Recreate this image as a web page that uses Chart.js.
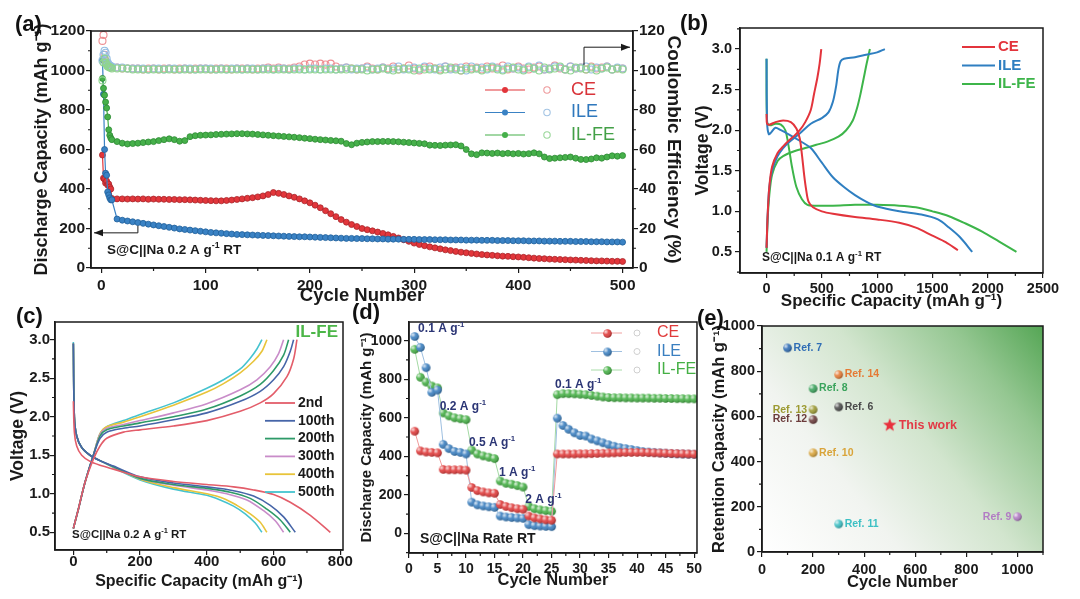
<!DOCTYPE html>
<html>
<head>
<meta charset="utf-8">
<script src="https://cdn.jsdelivr.net/npm/chart.js@4.4.1/dist/chart.umd.min.js"></script>
<style>
  html, body { margin: 0; padding: 0; background: #fff; }
  body { position: relative; width: 1080px; height: 599px; overflow: hidden; }
  canvas { position: absolute; }
  .tag { position: absolute; font: bold 22px "Liberation Sans", Arial, sans-serif; color: #111; }
</style>
</head>
<body>
<canvas id="chartA" width="700" height="310" style="left:0;top:0"></canvas>
<canvas id="chartB" width="390" height="315" style="left:690px;top:0"></canvas>
<canvas id="chartC" width="362" height="299" style="left:0;top:300px"></canvas>
<canvas id="chartD" width="360" height="299" style="left:345px;top:300px"></canvas>
<canvas id="chartE" width="380" height="299" style="left:700px;top:300px"></canvas>
<div class="tag" style="left:15px;top:11px">(a)</div>
<div class="tag" style="left:680px;top:10px">(b)</div>
<div class="tag" style="left:16px;top:303px">(c)</div>
<div class="tag" style="left:352px;top:299px">(d)</div>
<div class="tag" style="left:697px;top:305px">(e)</div>
<script>
// ---------- panel (a): cycling at 0.2 A/g ----------
const aCycles = [1, 2, 3, 4, 5, 6, 7, 8, 9, 10,
  15, 20, 25, 30, 35, 40, 45, 50, 55, 60,
  65, 70, 75, 80, 85, 90, 95, 100, 105, 110,
  115, 120, 125, 130, 135, 140, 145, 150, 155, 160,
  165, 170, 175, 180, 185, 190, 195, 200, 205, 210,
  215, 220, 225, 230, 235, 240, 245, 250, 255, 260,
  265, 270, 275, 280, 285, 290, 295, 300, 305, 310,
  315, 320, 325, 330, 335, 340, 345, 350, 355, 360,
  365, 370, 375, 380, 385, 390, 395, 400, 405, 410,
  415, 420, 425, 430, 435, 440, 445, 450, 455, 460,
  465, 470, 475, 480, 485, 490, 495, 500];
const aCapCE = [572, 455, 450, 430, 440, 420, 425, 410, 400, 352,
  350, 350, 349, 350, 349, 350, 348, 349, 348, 348,
  347, 347, 346, 346, 345, 344, 343, 342, 341, 340,
  340, 342, 344, 347, 350, 353, 356, 360, 365, 372,
  382, 378, 372, 365, 358, 350, 340, 330, 318, 305,
  290, 275, 260, 245, 232, 220, 210, 200, 194, 188,
  182, 175, 168, 160, 152, 143, 135, 126, 119, 113,
  107, 102, 97, 92, 88, 84, 80, 77, 74, 71,
  68, 66, 64, 62, 60, 59, 57, 56, 54, 52,
  50, 48, 47, 45, 44, 43, 42, 41, 40, 39,
  38, 37, 36, 36, 35, 34, 34, 33];
const aCapILE = [1055, 880, 600, 480, 470, 385, 370, 355, 345, 345,
  248, 242, 238, 234, 230, 226, 222, 218, 214, 210,
  206, 202, 198, 195, 192, 189, 186, 183, 180, 178,
  176, 174, 172, 170, 169, 168, 167, 166, 165, 164,
  163, 162, 161, 160, 159, 158, 158, 157, 156, 155,
  154, 153, 152, 151, 150, 150, 149, 149, 148, 148,
  147, 147, 146, 146, 146, 145, 145, 145, 144, 144,
  144, 143, 143, 143, 142, 142, 142, 141, 141, 141,
  140, 140, 140, 139, 139, 139, 138, 138, 138, 137,
  137, 137, 136, 136, 136, 135, 135, 135, 134, 134,
  134, 133, 133, 133, 132, 132, 132, 131];
const aCapILFE = [960, 910, 875, 840, 810, 765, 700, 672, 658, 650,
  640, 632, 628, 630, 632, 635, 638, 640, 645, 650,
  654, 650, 642, 645, 665, 670, 672, 673, 674, 676,
  677, 678, 679, 680, 680, 679, 678, 676, 674, 672,
  670, 668, 666, 664, 662, 660, 657, 655, 652, 650,
  648, 646, 644, 642, 630, 624, 632, 636, 638, 640,
  640, 641, 641, 640, 639, 637, 635, 633, 631, 629,
  622, 621, 620, 622, 623, 624, 618, 600, 578, 574,
  583, 582, 580, 582, 579, 581, 578, 580, 577, 579,
  583, 578, 562, 554, 556, 558, 560, 562, 556, 550,
  549, 552, 558, 556, 562, 568, 566, 569];
const aEffCE = [115, 118, 108, 105, 104, 103, 102.5, 102, 102, 101.5,
  101.5, 101, 101, 101, 101, 100.5, 101, 101, 100.5, 101,
  101, 100.5, 101, 101, 100.5, 101, 101, 101, 100.5, 101,
  101, 101, 100.5, 101, 101, 101, 100.5, 101, 101, 101.5,
  101, 101.5, 101, 101, 101.5, 102, 103, 103.5, 103, 103.5,
  103, 103.5, 102, 101, 101.5, 101, 100.5, 101, 102, 101,
  100.5, 101.5, 101, 102, 100.5, 101, 102.5, 101, 100, 101.5,
  102, 101, 100.5, 102, 101, 101.5, 100, 102, 101, 101.5,
  100.5, 102, 101, 101.5, 102.5, 100.5, 101, 102, 101, 100.5,
  101.5, 102, 100.5, 101, 102.5, 101, 100.5, 102, 101, 101.5,
  100.5, 102, 101, 101.5, 102, 100.5, 101, 101];
const aEffILE = [105, 108, 110, 109, 106, 104, 103, 102.5, 102, 102,
  101.5, 101.5, 101, 101, 101, 101, 100.5, 101, 101, 100.5,
  101, 101, 100.5, 101, 101, 100.5, 101, 101, 101, 100.5,
  101, 100.5, 101, 101, 100.5, 101, 101, 100.5, 101, 101,
  100.5, 101, 101, 100.5, 101, 101, 100.5, 101, 101, 100.5,
  101, 101, 100.5, 101, 101.5, 100.5, 101, 101, 101.5, 100.5,
  101, 101.5, 100.5, 101, 102, 100.5, 101, 101.5, 100.5, 102,
  101, 100.5, 101.5, 102, 100.5, 101, 101.5, 100, 102, 101,
  101.5, 100.5, 102, 101, 100.5, 102, 101, 101.5, 100.5, 102,
  101, 102.5, 100.5, 101, 102, 101.5, 100.5, 102, 101, 101.5,
  102, 100.5, 101.5, 101, 102, 100.5, 101.5, 101];
const aEffILFE = [95, 104, 106, 104, 103, 102, 102, 101.5, 101.5, 101,
  101, 101, 101, 100.5, 100.5, 100.5, 100.5, 100.5, 100.5, 100.5,
  100.5, 100.5, 100.5, 100.5, 100.5, 100.5, 100.5, 100.5, 100.5, 100.5,
  100.5, 100.5, 100.5, 100.5, 100.5, 100.5, 100.5, 100.5, 100.5, 100.5,
  100.5, 100.5, 100.5, 100.5, 100.5, 100.5, 100.5, 100.5, 100.5, 100.5,
  100.5, 100.5, 100.5, 100.5, 100.5, 101, 100.5, 100.5, 100, 100.5,
  100.5, 101, 100.5, 100, 100.5, 101, 100.5, 100, 101, 100.5,
  100.5, 101, 100, 100.5, 101.5, 100.5, 100, 101, 100.5, 101,
  100, 101, 101.5, 100.5, 100, 101, 101.5, 100.5, 100, 101.5,
  101, 100, 101.5, 100.5, 101, 102, 100.5, 100, 101.5, 101,
  100.5, 101.5, 100, 101, 101.5, 100.5, 101, 100.5];
const aTicksX = [0, 100, 200, 300, 400, 500];
const aTicksY = [0, 200, 400, 600, 800, 1000, 1200];
const aTicksY2 = [0, 20, 40, 60, 80, 100, 120];

// ---------- panel (b): first cycle profiles at 0.1 A/g ----------
const bCEChgCap = [0, 10, 25, 50, 100, 150, 200, 250, 300, 350, 400, 430, 460, 480, 495];
const bCEChgV = [0.55, 0.95, 1.3, 1.55, 1.72, 1.8, 1.87, 1.93, 2.0, 2.1, 2.25, 2.45, 2.65, 2.82, 3.0];
const bCEDisCap = [0, 5, 30, 80, 150, 220, 270, 300, 320, 340, 360, 380, 420, 500, 600, 800, 1000, 1200, 1350, 1500, 1620, 1730];
const bCEDisV = [2.2, 2.08, 2.07, 2.1, 2.12, 2.1, 2.02, 1.9, 1.7, 1.45, 1.25, 1.12, 1.05, 1.0, 0.97, 0.93, 0.9, 0.86, 0.8, 0.7, 0.62, 0.52];
const bILEChgCap = [0, 10, 25, 50, 100, 150, 200, 300, 400, 500, 560, 600, 630, 650, 670, 700, 800, 900, 1000, 1070];
const bILEChgV = [0.55, 0.95, 1.3, 1.5, 1.68, 1.78, 1.85, 1.96, 2.08, 2.15, 2.22, 2.35, 2.55, 2.75, 2.85, 2.88, 2.9, 2.93, 2.96, 3.0];
const bILEDisCap = [0, 5, 20, 40, 80, 130, 200, 300, 400, 500, 600, 700, 800, 900, 1000, 1200, 1400, 1550, 1650, 1750, 1860];
const bILEDisV = [2.88, 2.1, 1.95, 1.97, 2.03, 2.0, 1.95, 1.87, 1.78, 1.6, 1.42, 1.3, 1.2, 1.12, 1.06, 1.0, 0.96, 0.9, 0.8, 0.68, 0.5];
const bILFEChgCap = [0, 10, 25, 50, 100, 150, 250, 350, 450, 550, 650, 720, 780, 820, 850, 880, 905, 935];
const bILFEChgV = [0.5, 0.9, 1.2, 1.45, 1.62, 1.68, 1.74, 1.78, 1.82, 1.86, 1.92, 2.0, 2.12, 2.28, 2.45, 2.65, 2.82, 3.0];
const bILFEDisCap = [0, 5, 30, 80, 130, 170, 200, 230, 270, 320, 370, 450, 600, 800, 1000, 1200, 1350, 1500, 1650, 1800, 1950, 2100, 2260];
const bILFEDisV = [2.88, 2.1, 2.06, 2.08, 2.07, 2.0, 1.8, 1.55, 1.3, 1.15, 1.08, 1.07, 1.07, 1.08, 1.08, 1.07, 1.05, 1.0, 0.94, 0.85, 0.75, 0.63, 0.5];
const bTicksX = [0, 500, 1000, 1500, 2000, 2500];
const vTicks = [0.5, 1.0, 1.5, 2.0, 2.5, 3.0];

// ---------- panel (c): IL-FE profiles at selected cycles ----------
const cNames = ['2nd', '100th', '200th', '300th', '400th', '500th'];
const cChgCap = [
  [0, 15, 35, 60, 80, 100, 150, 200, 300, 400, 500, 560, 600, 640, 660, 670],
  [0, 15, 35, 60, 80, 100, 150, 200, 300, 400, 500, 560, 600, 630, 650, 660],
  [0, 15, 35, 60, 80, 100, 150, 200, 300, 400, 500, 560, 600, 630, 645],
  [0, 15, 35, 60, 80, 100, 150, 200, 300, 400, 500, 550, 590, 615, 630],
  [0, 15, 35, 60, 80, 100, 150, 200, 300, 400, 450, 500, 540, 565, 580],
  [0, 15, 35, 60, 80, 100, 150, 200, 300, 400, 450, 500, 530, 550, 565]];
const cChgV = [
  [0.55, 0.8, 1.15, 1.45, 1.62, 1.72, 1.8, 1.83, 1.88, 1.95, 2.07, 2.18, 2.3, 2.52, 2.75, 3.0],
  [0.55, 0.8, 1.15, 1.5, 1.72, 1.8, 1.85, 1.88, 1.96, 2.05, 2.2, 2.33, 2.48, 2.65, 2.85, 3.0],
  [0.55, 0.8, 1.15, 1.5, 1.75, 1.83, 1.88, 1.92, 2.0, 2.1, 2.27, 2.42, 2.6, 2.8, 3.0],
  [0.55, 0.8, 1.15, 1.5, 1.77, 1.85, 1.9, 1.95, 2.05, 2.17, 2.35, 2.48, 2.65, 2.82, 3.0],
  [0.55, 0.8, 1.15, 1.5, 1.78, 1.87, 1.93, 2.0, 2.15, 2.32, 2.43, 2.57, 2.72, 2.85, 3.0],
  [0.55, 0.8, 1.15, 1.5, 1.78, 1.87, 1.95, 2.03, 2.18, 2.37, 2.48, 2.62, 2.76, 2.88, 3.0]];
const cDisCap = [
  [0, 3, 10, 25, 50, 80, 120, 200, 300, 400, 480, 540, 600, 650, 710, 770],
  [0, 3, 10, 25, 50, 80, 120, 200, 300, 400, 480, 540, 590, 630, 665],
  [0, 3, 10, 25, 50, 80, 120, 200, 300, 400, 470, 530, 580, 620, 650],
  [0, 3, 10, 25, 50, 80, 120, 200, 300, 400, 460, 520, 570, 605, 630],
  [0, 3, 10, 25, 50, 80, 120, 200, 300, 400, 450, 490, 530, 560, 580],
  [0, 3, 10, 25, 50, 80, 120, 200, 300, 400, 440, 480, 515, 545, 565]];
const cDisV = [
  [2.2, 1.8, 1.62, 1.5, 1.42, 1.37, 1.32, 1.22, 1.16, 1.12, 1.09, 1.05, 0.99, 0.89, 0.72, 0.5],
  [2.95, 2.0, 1.75, 1.6, 1.5, 1.43, 1.36, 1.22, 1.14, 1.09, 1.04, 0.97, 0.85, 0.7, 0.5],
  [2.95, 2.0, 1.75, 1.6, 1.5, 1.43, 1.35, 1.2, 1.12, 1.07, 1.02, 0.94, 0.8, 0.66, 0.5],
  [2.95, 2.0, 1.75, 1.6, 1.5, 1.43, 1.35, 1.2, 1.11, 1.05, 1.0, 0.92, 0.78, 0.65, 0.5],
  [2.95, 2.0, 1.75, 1.6, 1.5, 1.43, 1.35, 1.19, 1.08, 1.0, 0.94, 0.85, 0.74, 0.63, 0.5],
  [2.97, 2.0, 1.75, 1.6, 1.5, 1.43, 1.34, 1.18, 1.06, 0.98, 0.92, 0.84, 0.74, 0.62, 0.5]];
const cTicksX = [0, 200, 400, 600, 800];

// ---------- panel (d): rate capability ----------
const dCycles = [1, 2, 3, 4, 5, 6, 7, 8, 9, 10, 11, 12, 13, 14, 15, 16, 17, 18, 19, 20, 21, 22, 23, 24, 25,
  26, 27, 28, 29, 30, 31, 32, 33, 34, 35, 36, 37, 38, 39, 40, 41, 42, 43, 44, 45, 46, 47, 48, 49, 50];
const dCapCE = [530, 428, 422, 420, 418, 332, 330, 330, 330, 328, 238, 222, 215, 210, 208,
  150, 140, 133, 128, 125, 90, 80, 75, 70, 68,
  412, 412, 412, 412, 413, 413, 414, 415, 416, 417, 418, 419, 420, 420, 420,
  420, 419, 418, 417, 416, 415, 414, 413, 412, 411];
const dCapILE = [1022, 965, 860, 732, 744, 462, 440, 425, 420, 412, 162, 148, 142, 138, 135,
  90, 85, 82, 80, 78, 45, 40, 38, 36, 35,
  598, 560, 540, 522, 508, 505, 490, 480, 470, 460, 452, 445, 440, 435, 430,
  425, 422, 420, 418, 416, 414, 413, 412, 411, 410];
const dCapILFE = [955, 810, 785, 765, 755, 625, 610, 600, 595, 590, 432, 412, 402, 395, 388,
  272, 260, 255, 248, 240, 140, 128, 122, 118, 115,
  720, 725, 725, 724, 722, 720, 716, 712, 708, 705, 704, 704, 703, 703, 702,
  702, 702, 701, 701, 700, 700, 699, 699, 698, 698];
const dRateLabels = ['0.1 A g', '0.2 A g', '0.5 A g', '1 A g', '2 A g', '0.1 A g'];
const dRateAtCycle = [1.6, 5.4, 10.5, 15.8, 20.4, 25.6];
const dRateAtCap = [1060, 656, 469, 313, 173, 770];
const dTicksX = [0, 5, 10, 15, 20, 25, 30, 35, 40, 45, 50];
const dTicksY = [0, 200, 400, 600, 800, 1000];

// ---------- panel (e): comparison with literature ----------
const eRefs = ['Ref. 6', 'Ref. 7', 'Ref. 8', 'Ref. 9', 'Ref. 10', 'Ref. 11', 'Ref. 12', 'Ref. 13', 'Ref. 14'];
const eCycles = [300, 100, 200, 1000, 200, 300, 200, 200, 300];
const eCaps = [642, 903, 723, 156, 439, 124, 586, 630, 785];
const eColors = ['#4a4a4a', '#2f6db5', '#3aa35c', '#b27cc4', '#d9a43a', '#3cc0c4', '#6b3b3b', '#9c9a32', '#e57a34'];
const eLabelLeft = [false, false, false, true, false, false, true, true, false];
const thisWorkCycles = [500];
const thisWorkCaps = [561];
const eTicks = [0, 200, 400, 600, 800, 1000];

// ---------- shared styling ----------
const FONT = '"Liberation Sans", Arial, sans-serif';
const INK = '#1a1a1a';
const RED = '#e2363b', BLUE = '#3a82c4', GREEN = '#46b04a';
Chart.defaults.font.family = FONT;
Chart.defaults.color = INK;

function f(size, weight) { return { family: FONT, size: size, weight: weight || 'bold' }; }
function pts(xs, ys) { return xs.map((x, i) => ({ x: x, y: ys[i] })); }

function linAxis(o) {
  return {
    type: 'linear', position: o.position, min: o.min, max: o.max, bounds: 'data',
    afterFit: s => { if (s.isHorizontal()) s.height = o.size; else s.width = o.size; },
    afterBuildTicks: s => { s.ticks = o.ticks.map(v => ({ value: v })); },
    ticks: { font: f(o.tickSize), color: INK, padding: o.tickPad, autoSkip: false, maxRotation: 0,
      callback: o.fmt || (v => String(v)) },
    title: { display: true, text: o.title, font: f(o.titleSize), color: INK, padding: o.titlePad },
    grid: { display: true, drawOnChartArea: false, drawTicks: true, tickLength: 5, color: INK, lineWidth: 1.2 },
    border: { display: true, color: INK, width: 1.5 }
  };
}

function baseOptions(pad, scales) {
  return {
    responsive: false, animation: false, events: [],
    layout: { padding: pad },
    plugins: { legend: { display: false }, tooltip: { enabled: false } },
    scales: scales
  };
}

// black box round the plot area
const frame = {
  id: 'frame',
  afterDraw(chart) {
    const { ctx, chartArea: a } = chart;
    ctx.save();
    ctx.strokeStyle = INK; ctx.lineWidth = 1.5;
    ctx.strokeRect(a.left, a.top, a.right - a.left, a.bottom - a.top);
    ctx.restore();
  }
};

// short ticks halfway between the labelled ones
const minorTicks = {
  id: 'minorTicks',
  afterDraw(chart) {
    const { ctx, chartArea: a } = chart;
    ctx.save();
    ctx.strokeStyle = INK; ctx.lineWidth = 1.2;
    Object.values(chart.scales).forEach(s => {
      if (s.ticks.length < 2) return;
      const step = s.ticks[1].value - s.ticks[0].value;
      ctx.beginPath();
      for (let v = s.ticks[0].value - step / 2; v <= s.max + 1e-9; v += step) {
        if (v < s.min - 1e-9) continue;
        const p = s.getPixelForValue(v);
        if (s.isHorizontal()) { ctx.moveTo(p, a.bottom); ctx.lineTo(p, a.bottom + 3); }
        else if (s.position === 'left') { ctx.moveTo(a.left, p); ctx.lineTo(a.left - 3, p); }
        else { ctx.moveTo(a.right, p); ctx.lineTo(a.right + 3, p); }
      }
      ctx.stroke();
    });
    ctx.restore();
  }
};

// text with a superscript part, e.g. g^-1
function richText(ctx, x, y, parts, size, color, weight) {
  ctx.save();
  ctx.fillStyle = color; ctx.textBaseline = 'middle'; ctx.textAlign = 'left';
  let cx = x;
  parts.forEach(p => {
    const sup = p[1];
    ctx.font = (weight || 'bold') + ' ' + (sup ? size * 0.65 : size) + 'px ' + FONT;
    ctx.fillText(p[0], cx, sup ? y - size * 0.36 : y);
    cx += ctx.measureText(p[0]).width;
  });
  ctx.restore();
}

function sphere(color, r) {
  const c = document.createElement('canvas');
  const s = Math.ceil(r * 2 + 2);
  c.width = c.height = s;
  const g = c.getContext('2d');
  const m = s / 2;
  g.beginPath(); g.arc(m, m, r, 0, Math.PI * 2);
  g.fillStyle = color; g.fill();
  const hl = g.createRadialGradient(m - r * 0.4, m - r * 0.4, 0, m - r * 0.4, m - r * 0.4, r * 1.5);
  hl.addColorStop(0, 'rgba(255,255,255,0.85)');
  hl.addColorStop(0.45, 'rgba(255,255,255,0.1)');
  hl.addColorStop(1, 'rgba(0,0,0,0.3)');
  g.fillStyle = hl; g.fill();
  return c;
}

function starImage(color, r) {
  const c = document.createElement('canvas');
  c.width = c.height = Math.ceil(r * 2 + 2);
  const g = c.getContext('2d');
  const m = c.width / 2;
  g.beginPath();
  for (let i = 0; i < 10; i++) {
    const rr = i % 2 ? r * 0.42 : r;
    const ang = -Math.PI / 2 + i * Math.PI / 5;
    g.lineTo(m + rr * Math.cos(ang), m + rr * Math.sin(ang));
  }
  g.closePath(); g.fillStyle = color; g.fill();
  return c;
}

function arrowHead(ctx, x, y, dir) {
  ctx.beginPath();
  ctx.moveTo(x, y);
  ctx.lineTo(x - dir * 9, y - 3.5);
  ctx.lineTo(x - dir * 9, y + 3.5);
  ctx.closePath(); ctx.fill();
}

// ---------- (a) ----------
function capSet(ys, color, dark, order) {
  return { data: pts(aCycles, ys), yAxisID: 'y', borderColor: color, borderWidth: 1.2,
    pointRadius: 3, pointBackgroundColor: color, pointBorderColor: dark, pointBorderWidth: 0.8, order: order };
}
function effSet(ys, color, order) {
  return { data: pts(aCycles, ys), yAxisID: 'y2', showLine: false, pointRadius: 3.5,
    pointBackgroundColor: 'rgba(255,255,255,0)', pointBorderColor: color, pointBorderWidth: 1.1, order: order };
}

const notesA = {
  id: 'notesA',
  afterDraw(chart) {
    const { ctx, chartArea: a, scales: { x, y, y2 } } = chart;
    ctx.save();
    const rows = [['CE', RED, '#ee9a9c', '#d9343a'], ['ILE', BLUE, '#a3c4e4', '#2f78bd'], ['IL-FE', GREEN, '#9ad79a', '#43a047']];
    rows.forEach((r, i) => {
      const ly = 90 + i * 22.5;
      ctx.strokeStyle = r[1]; ctx.lineWidth = 1.2;
      ctx.beginPath(); ctx.moveTo(485, ly); ctx.lineTo(525, ly); ctx.stroke();
      ctx.beginPath(); ctx.arc(505, ly, 3, 0, Math.PI * 2); ctx.fillStyle = r[1]; ctx.fill();
      ctx.beginPath(); ctx.arc(547, ly, 3.2, 0, Math.PI * 2); ctx.strokeStyle = r[2]; ctx.lineWidth = 1.1; ctx.stroke();
      ctx.fillStyle = r[3]; ctx.font = '18px ' + FONT; ctx.textBaseline = 'middle';
      ctx.fillText(r[0], 571, ly);
    });
    richText(ctx, a.left + 16, a.bottom - 18, [['S@C||Na 0.2 A g'], ['-1', true], [' RT']], 13.5, INK);
    // arrows pointing to the axes
    ctx.strokeStyle = INK; ctx.fillStyle = INK; ctx.lineWidth = 1;
    const lx = x.getPixelForValue(35), ly1 = y.getPixelForValue(214), ly2 = y.getPixelForValue(178);
    ctx.beginPath(); ctx.moveTo(lx, ly1); ctx.lineTo(lx, ly2); ctx.lineTo(a.left + 3, ly2); ctx.stroke();
    arrowHead(ctx, a.left + 3, ly2, -1);
    const rx = x.getPixelForValue(463), ry1 = y2.getPixelForValue(102.7), ry2 = y2.getPixelForValue(111.8);
    ctx.beginPath(); ctx.moveTo(rx, ry1); ctx.lineTo(rx, ry2); ctx.lineTo(a.right - 3, ry2); ctx.stroke();
    arrowHead(ctx, a.right - 3, ry2, 1);
    ctx.restore();
  }
};

new Chart(document.getElementById('chartA'), {
  type: 'line',
  data: { datasets: [
    capSet(aCapCE, RED, '#a8242a', 5),
    capSet(aCapILE, BLUE, '#1f5f9a', 4),
    capSet(aCapILFE, GREEN, '#2c8a32', 3),
    effSet(aEffCE, '#ee8f93', 2),
    effSet(aEffILE, '#93bde3', 1),
    effSet(aEffILFE, '#8fd58f', 0)
  ] },
  options: baseOptions({ top: 31, left: 0, right: 0, bottom: 0 }, {
    x: linAxis({ position: 'bottom', min: -10, max: 510, size: 42, ticks: aTicksX, tickSize: 15.5, tickPad: 3,
      title: 'Cycle Number', titleSize: 18.5, titlePad: { top: 0, bottom: 3 } }),
    y: linAxis({ position: 'left', min: 0, max: 1200, size: 91, ticks: aTicksY, tickSize: 15.5, tickPad: 1,
      title: 'Discharge Capacity (mAh g⁻¹)', titleSize: 18, titlePad: { top: 31, bottom: 0 } }),
    y2: linAxis({ position: 'right', min: 0, max: 120, size: 67, ticks: aTicksY2, tickSize: 15.5, tickPad: 1,
      title: 'Coulombic Efficiency (%)', titleSize: 19, titlePad: { top: 15, bottom: 0 } })
  }),
  plugins: [frame, minorTicks, notesA]
});

// ---------- (b) ----------
function curve(xs, ys, color, w) {
  return { data: pts(xs, ys), borderColor: color, borderWidth: w || 2, pointRadius: 0, tension: 0.3, fill: false };
}
const bRed = '#e3343c', bBlue = '#2f7fc1', bGreen = '#3db54a';
const notesB = {
  id: 'notesB',
  afterDraw(chart) {
    const { ctx, chartArea: a } = chart;
    ctx.save();
    [['CE', bRed], ['ILE', bBlue], ['IL-FE', bGreen]].forEach((r, i) => {
      const ly = 47 + i * 18.5;
      ctx.strokeStyle = r[1]; ctx.lineWidth = 2.2;
      ctx.beginPath(); ctx.moveTo(272, ly); ctx.lineTo(305, ly); ctx.stroke();
      ctx.fillStyle = r[1]; ctx.font = 'bold 15px ' + FONT; ctx.textBaseline = 'middle';
      ctx.fillText(r[0], 308, ly);
    });
    richText(ctx, a.left + 22, a.bottom - 15, [['S@C||Na 0.1 A g'], ['-1', true], [' RT']], 12, INK);
    ctx.restore();
  }
};
new Chart(document.getElementById('chartB'), {
  type: 'line',
  data: { datasets: [
    curve(bCEChgCap, bCEChgV, bRed), curve(bCEDisCap, bCEDisV, bRed),
    curve(bILEChgCap, bILEChgV, bBlue), curve(bILEDisCap, bILEDisV, bBlue),
    curve(bILFEChgCap, bILFEChgV, bGreen), curve(bILFEDisCap, bILFEDisV, bGreen)
  ] },
  options: baseOptions({ top: 28, left: 0, right: 37, bottom: 0 }, {
    x: linAxis({ position: 'bottom', min: -240, max: 2500, size: 42, ticks: bTicksX, tickSize: 14.5, tickPad: 2,
      title: 'Specific Capacity (mAh g⁻¹)', titleSize: 17, titlePad: { top: 0, bottom: 3 } }),
    y: linAxis({ position: 'left', min: 0.24, max: 3.26, size: 50, ticks: vTicks, tickSize: 14.5, tickPad: 3,
      fmt: v => v.toFixed(1), title: 'Voltage (V)', titleSize: 17.5, titlePad: { top: 2.5, bottom: 0 } })
  }),
  plugins: [frame, minorTicks, notesB]
});

// ---------- (c) ----------
const cColors = ['#e35d6a', '#4665a8', '#2e9a68', '#c98cc9', '#e8c43a', '#45c3cf'];
const cSets = [];
cNames.forEach((n, i) => {
  cSets.push(curve(cChgCap[i], cChgV[i], cColors[i], 1.6));
  cSets.push(curve(cDisCap[i], cDisV[i], cColors[i], 1.6));
});
const notesC = {
  id: 'notesC',
  afterDraw(chart) {
    const { ctx, chartArea: a } = chart;
    ctx.save();
    ctx.font = 'bold 17px ' + FONT; ctx.fillStyle = '#4cb648'; ctx.textAlign = 'right'; ctx.textBaseline = 'middle';
    ctx.fillText('IL-FE', a.right - 5, 32);
    ctx.textAlign = 'left';
    cNames.forEach((n, i) => {
      const ly = 103 + i * 17.8;
      ctx.strokeStyle = cColors[i]; ctx.lineWidth = 1.8;
      ctx.beginPath(); ctx.moveTo(265, ly); ctx.lineTo(295, ly); ctx.stroke();
      ctx.fillStyle = INK; ctx.font = 'bold 14px ' + FONT;
      ctx.fillText(n, 298, ly);
    });
    richText(ctx, a.left + 17, a.bottom - 15, [['S@C||Na 0.2 A g'], ['-1', true], [' RT']], 11.5, INK);
    ctx.restore();
  }
};
new Chart(document.getElementById('chartC'), {
  type: 'line',
  data: { datasets: cSets },
  options: baseOptions({ top: 22, left: 0, right: 19, bottom: 0 }, {
    x: linAxis({ position: 'bottom', min: -55, max: 808, size: 49, ticks: cTicksX, tickSize: 15, tickPad: -2,
      title: 'Specific Capacity (mAh g⁻¹)', titleSize: 16, titlePad: { top: 0, bottom: 8 } }),
    y: linAxis({ position: 'left', min: 0.27, max: 3.23, size: 55, ticks: vTicks, tickSize: 15, tickPad: 0,
      fmt: v => v.toFixed(1), title: 'Voltage (V)', titleSize: 17.5, titlePad: { top: 7.5, bottom: 0 } })
  }),
  plugins: [frame, minorTicks, notesC]
});

// ---------- (d) ----------
function rateSet(ys, color, lineColor) {
  return { data: pts(dCycles, ys), borderColor: lineColor, borderWidth: 1, pointStyle: sphere(color, 4.3),
    pointRadius: 4.5, tension: 0 };
}
const notesD = {
  id: 'notesD',
  afterDraw(chart) {
    const { ctx, scales: { x, y } } = chart;
    ctx.save();
    dRateLabels.forEach((t, i) => {
      richText(ctx, x.getPixelForValue(dRateAtCycle[i]), y.getPixelForValue(dRateAtCap[i]),
        [[t], ['-1', true]], 12, '#2b3575');
    });
    [['CE', '#e03a3a', '#f0a0a0'], ['ILE', '#3a7fc0', '#a0c0e0'], ['IL-FE', '#45b045', '#a8dca8']].forEach((r, i) => {
      const ly = 33 + i * 18.5;
      ctx.strokeStyle = r[2]; ctx.lineWidth = 1;
      ctx.beginPath(); ctx.moveTo(246, ly); ctx.lineTo(277, ly); ctx.stroke();
      ctx.drawImage(sphere(r[1], 4.3), 262 - 5, ly - 5);
      ctx.beginPath(); ctx.arc(292, ly, 3, 0, Math.PI * 2); ctx.strokeStyle = '#cfcfcf'; ctx.stroke();
      ctx.fillStyle = r[1]; ctx.font = '16px ' + FONT; ctx.textBaseline = 'middle';
      ctx.fillText(r[0], 312, ly);
    });
    richText(ctx, chart.chartArea.left + 11, chart.chartArea.bottom - 14, [['S@C||Na Rate RT']], 14, INK);
    ctx.restore();
  }
};
new Chart(document.getElementById('chartD'), {
  type: 'line',
  data: { datasets: [
    rateSet(dCapCE, '#e03a3a', '#f09a9a'),
    rateSet(dCapILE, '#3a7fc0', '#9dbfe0'),
    rateSet(dCapILFE, '#45b045', '#a3d9a3')
  ] },
  options: baseOptions({ top: 22, left: 0, right: 8, bottom: 0 }, {
    x: linAxis({ position: 'bottom', min: 0, max: 50.5, size: 46, ticks: dTicksX, tickSize: 14, tickPad: 3,
      title: 'Cycle Number', titleSize: 16.5, titlePad: { top: 0, bottom: 9 } }),
    y: linAxis({ position: 'left', min: -102, max: 1097, size: 64, ticks: dTicksY, tickSize: 14, tickPad: 2,
      title: 'Discharge Capacity (mAh g⁻¹)', titleSize: 15, titlePad: { top: 13, bottom: 0 } })
  }),
  plugins: [frame, minorTicks, notesD]
});

// ---------- (e) ----------
const bgE = {
  id: 'bgE',
  beforeDraw(chart) {
    const { ctx, chartArea: a } = chart;
    const g = ctx.createLinearGradient(a.left, a.bottom, a.right, a.top);
    g.addColorStop(0, '#ffffff');
    g.addColorStop(0.3, '#f1f4f0');
    g.addColorStop(0.55, '#d2e5ce');
    g.addColorStop(0.8, '#95c792');
    g.addColorStop(1, '#55a655');
    ctx.save(); ctx.fillStyle = g; ctx.fillRect(a.left, a.top, a.right - a.left, a.bottom - a.top); ctx.restore();
  }
};
const notesE = {
  id: 'notesE',
  afterDraw(chart) {
    const { ctx } = chart;
    ctx.save();
    ctx.textBaseline = 'middle';
    chart.getDatasetMeta(0).data.forEach((p, i) => {
      ctx.fillStyle = eColors[i]; ctx.font = 'bold 10.5px ' + FONT;
      ctx.textAlign = eLabelLeft[i] ? 'right' : 'left';
      ctx.fillText(eRefs[i], p.x + (eLabelLeft[i] ? -6 : 6), p.y);
    });
    const s = chart.getDatasetMeta(1).data[0];
    ctx.fillStyle = '#e23a46'; ctx.font = 'bold 12.5px ' + FONT; ctx.textAlign = 'left';
    ctx.fillText('This work', s.x + 9, s.y);
    ctx.restore();
  }
};
new Chart(document.getElementById('chartE'), {
  type: 'scatter',
  data: { datasets: [
    { data: pts(eCycles, eCaps), pointStyle: eColors.map(c => sphere(c, 4.3)), pointRadius: 5 },
    { data: pts(thisWorkCycles, thisWorkCaps), pointStyle: starImage('#e8303c', 7), pointRadius: 7 }
  ] },
  options: baseOptions({ top: 26, left: 0, right: 37, bottom: 0 }, {
    x: linAxis({ position: 'bottom', min: 0, max: 1100, size: 47, ticks: eTicks, tickSize: 14.5, tickPad: 4,
      title: 'Cycle Number', titleSize: 16.5, titlePad: { top: 0, bottom: 7 } }),
    y: linAxis({ position: 'left', min: 0, max: 1000, size: 62, ticks: eTicks, tickSize: 14.5, tickPad: 2,
      title: 'Retention Capacity (mAh g⁻¹)', titleSize: 16.5, titlePad: { top: 10, bottom: 0 } })
  }),
  plugins: [bgE, frame, minorTicks, notesE]
});
</script>
</body>
</html>
